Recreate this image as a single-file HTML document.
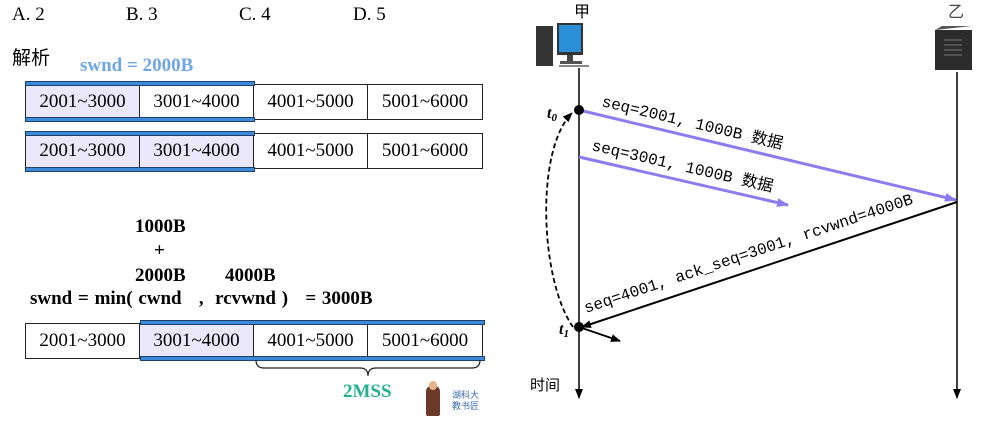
<!DOCTYPE html>
<html><head><meta charset="utf-8"><style>
body{margin:0;width:993px;height:436px;background:#fff;overflow:hidden;position:relative;font-family:"Liberation Serif","Noto Serif CJK SC",serif}
.t{position:absolute;white-space:nowrap}
.row{position:absolute;left:25px;display:flex;height:36px;border:1px solid #222;box-sizing:border-box}
.c{width:114px;border-right:1px solid #222;box-sizing:border-box;font-size:19px;line-height:34px;text-align:center}
.c:last-child{border-right:none}
.hl{background:#ece8fb}
.bar{position:absolute;height:5px;background:#3d8ad8;border:1px solid #1a3f70;box-sizing:border-box}
.b{font-weight:bold;font-size:19px}
</style></head><body>
<div class="t" style="left:12px;top:4px;font-size:19px">A. 2</div>
<div class="t" style="left:126px;top:4px;font-size:19px">B. 3</div>
<div class="t" style="left:239px;top:4px;font-size:19px">C. 4</div>
<div class="t" style="left:353px;top:4px;font-size:19px">D. 5</div>
<div class="t" style="left:12px;top:43px;font-size:19px;font-family:'Noto Sans CJK SC',sans-serif">解析</div>
<div class="t b" style="left:80px;top:55px;color:#6fa6e6">swnd = 2000B</div>

<div class="row" style="top:84px"><div class="c hl">2001~3000</div><div class="c">3001~4000</div><div class="c">4001~5000</div><div class="c">5001~6000</div></div>
<div class="bar" style="left:25px;top:81px;width:230px"></div><div class="bar" style="left:25px;top:117px;width:230px"></div>
<div class="row" style="top:133px"><div class="c hl">2001~3000</div><div class="c hl">3001~4000</div><div class="c">4001~5000</div><div class="c">5001~6000</div></div>
<div class="bar" style="left:25px;top:131px;width:230px"></div><div class="bar" style="left:25px;top:167px;width:230px"></div>

<div class="t b" style="left:135px;top:216px">1000B</div>
<div class="t b" style="left:154px;top:240px">+</div>
<div class="t b" style="left:135px;top:265px">2000B</div>
<div class="t b" style="left:225px;top:265px">4000B</div>
<div class="t b" style="left:30px;top:288px;word-spacing:1px">swnd = min( cwnd &nbsp;&nbsp;, &nbsp;rcvwnd ) &nbsp;&nbsp;= 3000B</div>

<div class="row" style="top:323px"><div class="c">2001~3000</div><div class="c hl">3001~4000</div><div class="c">4001~5000</div><div class="c">5001~6000</div></div>
<div class="bar" style="left:140px;top:320px;width:345px"></div><div class="bar" style="left:140px;top:356px;width:345px"></div>
<svg style="position:absolute;left:0;top:0" width="993" height="436">
<path d="M256 360 q0 8 8 8 h96 q8 0 8 8 q0 -8 8 -8 h96 q8 0 8 -8" fill="none" stroke="#222" stroke-width="1.2"/>
</svg>
<div class="t b" style="left:343px;top:381px;color:#22b290">2MSS</div>
<div style="position:absolute;left:426px;top:386px;width:14px;height:30px;background:#6b3a2a;border-radius:5px 5px 2px 2px"></div>
<div style="position:absolute;left:429px;top:381px;width:8px;height:9px;background:#e8b48c;border-radius:4px"></div>
<div class="t" style="left:452px;top:389px;font-size:9px;color:#3a6ab0;font-family:'Noto Sans CJK SC',sans-serif;line-height:11px">湖科大<br>教书匠</div>

<div class="t" style="left:574px;top:-2px;font-size:16px;font-family:'Noto Sans CJK SC',sans-serif">甲</div>
<div class="t" style="left:948px;top:-2px;font-size:16px;font-family:'Noto Sans CJK SC',sans-serif;color:#444">乙</div>
<div class="t" style="left:530px;top:374px;font-size:15px;font-family:'Noto Sans CJK SC',sans-serif">时间</div>
<svg style="position:absolute;left:0;top:0" width="993" height="436" font-family="Liberation Mono, Noto Sans CJK SC, monospace">
<defs>
<marker id="pa" markerWidth="12" markerHeight="9" refX="11" refY="4.5" orient="auto" markerUnits="userSpaceOnUse"><path d="M0 0L12 4.5L0 9z" fill="#8b7cf0"/></marker>
<marker id="ba" markerWidth="10" markerHeight="8" refX="9" refY="4" orient="auto" markerUnits="userSpaceOnUse"><path d="M0 0L10 4L0 8z" fill="#000"/></marker>
</defs>
<rect x="536" y="26" width="17" height="40" fill="#333"/>
<rect x="557" y="23" width="26" height="32" fill="#333"/>
<rect x="559" y="25" width="22" height="27" fill="#2a8fd6"/>
<rect x="567" y="55" width="6" height="6" fill="#444"/>
<rect x="560" y="61" width="22" height="3" fill="#555"/>
<rect x="559" y="65" width="30" height="2" fill="#888"/>
<rect x="935" y="30" width="37" height="40" fill="#2c2c2c"/>
<path d="M935 30 l7 -4 h30 v0 z" fill="#555"/>
<g stroke="#777" stroke-width="1"><line x1="944" y1="40" x2="962" y2="40"/><line x1="944" y1="45" x2="962" y2="45"/><line x1="944" y1="50" x2="962" y2="50"/><line x1="944" y1="55" x2="962" y2="55"/></g>
<line x1="579" y1="68" x2="579" y2="398" stroke="#000" stroke-width="1.5" marker-end="url(#ba)"/>
<line x1="957" y1="72" x2="957" y2="398" stroke="#000" stroke-width="1.5" marker-end="url(#ba)"/>
<line x1="579" y1="110" x2="956" y2="200" stroke="#8b7cf0" stroke-width="3" marker-end="url(#pa)"/>
<line x1="579" y1="157" x2="788" y2="205" stroke="#8b7cf0" stroke-width="3" marker-end="url(#pa)"/>
<line x1="957" y1="202" x2="582" y2="327" stroke="#000" stroke-width="2" marker-end="url(#ba)"/>
<line x1="579" y1="327" x2="620" y2="341" stroke="#000" stroke-width="1.8" marker-end="url(#ba)"/>
<path d="M573 327 C540 280 535 150 572 113" fill="none" stroke="#000" stroke-width="1.8" stroke-dasharray="5,3" marker-end="url(#ba)"/>
<circle cx="579" cy="110" r="5" fill="#000"/>
<circle cx="579" cy="327" r="5" fill="#000"/>
<text x="547" y="118" font-family="Liberation Serif" font-style="italic" font-weight="bold" font-size="16">t<tspan font-size="11" dy="3">0</tspan></text>
<text x="559" y="334" font-family="Liberation Serif" font-style="italic" font-weight="bold" font-size="16">t<tspan font-size="11" dy="3">1</tspan></text>
<text transform="translate(601,106) rotate(13.4)" font-size="16">seq=2001, 1000B 数据</text>
<text transform="translate(591,150) rotate(13)" font-size="16">seq=3001, 1000B 数据</text>
<text transform="translate(586,313) rotate(-18.5)" font-size="16">seq=4001, ack_seq=3001, rcvwnd=4000B</text>
</svg>
</body></html>
